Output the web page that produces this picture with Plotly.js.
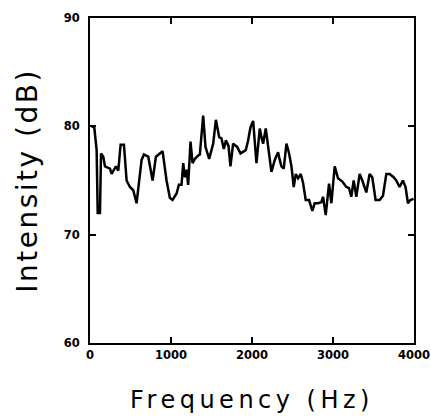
<!DOCTYPE html>
<html>
<head>
<meta charset="utf-8">
<script src="https://cdn.plot.ly/plotly-3.0.1.min.js"></script>
<style>
html,body{margin:0;padding:0;background:#fff;}
#chart{width:431px;height:417px;}
.xtitle{letter-spacing:4.5px;}
.ytitle{letter-spacing:2.5px;}
</style>
</head>
<body>
<div id="chart"></div>
<script>
const frequencyHz = [21,53,82,95,123,136,164,185,247,267,288,321,349,378,419,452,493,534,575,608,637,666,719,773,814,896,945,986,1019,1069,1097,1130,1151,1171,1192,1212,1241,1266,1295,1336,1356,1397,1426,1471,1521,1554,1595,1623,1652,1677,1710,1734,1767,1817,1858,1923,1952,1981,2014,2055,2096,2117,2137,2170,2199,2240,2281,2322,2343,2363,2392,2425,2458,2487,2515,2540,2569,2602,2630,2663,2704,2745,2774,2815,2856,2877,2910,2951,2980,3021,3062,3115,3165,3198,3226,3255,3288,3329,3362,3411,3452,3485,3526,3576,3617,3658,3699,3748,3781,3822,3863,3896,3925,3954,3995];
const intensityDb = [80.0,79.9,77.8,72.0,72.0,77.5,77.2,76.3,76.1,75.6,75.9,76.3,75.9,78.3,78.3,75.0,74.4,74.1,72.9,75.0,76.9,77.4,77.2,75.0,77.2,77.7,75.0,73.4,73.2,73.8,74.6,74.6,76.6,75.3,76.0,74.6,78.6,76.6,77.0,77.3,77.4,81.0,78.1,77.0,78.4,80.6,79.0,78.9,77.9,78.7,78.2,76.3,78.4,78.1,77.5,77.8,78.7,79.9,80.5,76.6,79.8,79.0,78.4,79.8,78.1,75.8,76.9,77.6,76.9,76.3,76.1,78.4,77.5,76.3,74.4,75.6,75.2,75.6,74.8,73.2,73.2,72.2,72.9,72.9,73.0,73.5,71.8,74.7,72.9,76.3,75.2,74.9,74.4,74.3,73.5,75.0,73.5,75.6,75.0,73.9,75.6,75.3,73.2,73.2,73.6,75.6,75.6,75.3,75.0,74.4,75.0,74.4,72.9,73.2,73.3];
const xTicks = [0,1000,2000,3000,4000];
const yTicks = [60,70,80,90];

const tickFont = {family: 'DejaVu Sans', size: 11.5, color: '#000', weight: 'bold'};

Plotly.newPlot('chart', [{
  x: frequencyHz, y: intensityDb, type: 'scatter', mode: 'lines',
  line: {color: '#000', width: 2.5}
}], {
  width: 431, height: 417,
  margin: {l: 90, r: 17, t: 18, b: 74},
  paper_bgcolor: '#fff', plot_bgcolor: '#fff',
  showlegend: false,
  xaxis: {
    range: [0, 4000], tickvals: xTicks, ticktext: xTicks.map(String),
    showgrid: false, zeroline: false, showline: true, linecolor: '#000', linewidth: 2,
    mirror: 'ticks', ticks: 'inside', ticklen: 6, tickwidth: 2, tickcolor: '#000',
    tickfont: tickFont,
    title: {text: 'Frequency (Hz)', font: {family: 'DejaVu Sans', size: 24, color: '#000'}, standoff: 30}
  },
  yaxis: {
    range: [60, 90], tickvals: yTicks, ticktext: yTicks.map(String),
    showgrid: false, zeroline: false, showline: true, linecolor: '#000', linewidth: 2,
    mirror: 'ticks', ticks: 'inside', ticklen: 6, tickwidth: 2, tickcolor: '#000',
    tickfont: tickFont, ticklabelstandoff: 6,
    title: {text: 'Intensity (dB)', font: {family: 'DejaVu Sans', size: 28, color: '#000'}, standoff: 18}
  }
}, {displayModeBar: false, staticPlot: true});
</script>
</body>
</html>
